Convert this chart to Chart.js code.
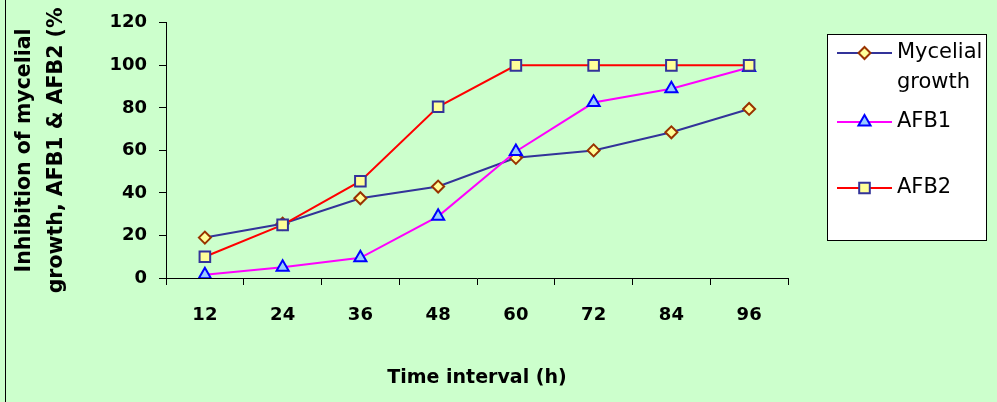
<!DOCTYPE html>
<html>
<head>
<meta charset="utf-8">
<script src="https://cdn.jsdelivr.net/npm/chart.js@4.4.1/dist/chart.umd.min.js"></script>
<style>
html, body { margin: 0; padding: 0; background: #ccffcc; }
#wrap { position: relative; width: 997px; height: 402px; }
</style>
</head>
<body>
<div id="wrap"><canvas id="chart" width="997" height="402"></canvas></div>
<script>
// data
const hours = ['12', '24', '36', '48', '60', '72', '84', '96'];
const mycelialGrowth = [19, 25.5, 37.5, 43, 56.5, 60, 68.5, 79.5];
const afb1 = [1.5, 5, 9.5, 29, 59.5, 82.5, 89, 99];
const afb2 = [10, 25, 45.5, 80.5, 100, 100, 100, 100];
const seriesNames = ['Mycelial growth', 'AFB1', 'AFB2'];
const yTicks = [0, 20, 40, 60, 80, 100, 120];
const xTitle = 'Time interval (h)';
const yTitle = ['Inhibition of mycelial', 'growth, AFB1 & AFB2 (%'];

const FONT = '"DejaVu Sans", Arial, sans-serif';

// green page + left frame line
const backdrop = {
    id: 'backdrop',
    beforeDraw(chart) {
        const ctx = chart.ctx;
        ctx.save();
        ctx.fillStyle = '#ccffcc';
        ctx.fillRect(0, 0, chart.width, chart.height);
        ctx.strokeStyle = '#000';
        ctx.lineWidth = 1;
        ctx.beginPath();
        ctx.moveTo(5.5, 0);
        ctx.lineTo(5.5, chart.height);
        ctx.stroke();
        ctx.restore();
    }
};

// excel-like legend box on the right
const boxLegend = {
    id: 'boxLegend',
    afterDraw(chart) {
        const ctx = chart.ctx;
        const box = { x: 827.5, y: 34.5, w: 159, h: 206 };
        const rows = [53, 122, 188];
        ctx.save();
        ctx.fillStyle = '#fff';
        ctx.fillRect(box.x, box.y, box.w, box.h);
        ctx.strokeStyle = '#000';
        ctx.lineWidth = 1;
        ctx.strokeRect(box.x, box.y, box.w, box.h);

        ctx.font = '21px ' + FONT;
        ctx.textBaseline = 'middle';
        ctx.textAlign = 'left';
        chart.data.datasets.forEach((ds, i) => {
            const y = rows[i];
            ctx.strokeStyle = ds.borderColor;
            ctx.lineWidth = 2;
            ctx.beginPath();
            ctx.moveTo(837, y);
            ctx.lineTo(892, y);
            ctx.stroke();

            ctx.fillStyle = ds.pointBackgroundColor;
            ctx.strokeStyle = ds.pointBorderColor;
            Chart.helpers.drawPoint(ctx, {
                pointStyle: ds.pointStyle,
                radius: ds.pointRadius,
                borderWidth: ds.pointBorderWidth,
                rotation: 0
            }, 864.5, y);

            // wrap label words into the box
            const words = ds.label.split(' ');
            const lines = [];
            let cur = '';
            words.forEach(w => {
                const test = cur ? cur + ' ' + w : w;
                if (cur && ctx.measureText(test).width > 86) {
                    lines.push(cur);
                    cur = w;
                } else {
                    cur = test;
                }
            });
            lines.push(cur);
            ctx.fillStyle = '#000';
            lines.forEach((ln, k) => ctx.fillText(ln, 897, y + k * 30));
        });
        ctx.restore();
    }
};

new Chart(document.getElementById('chart'), {
    type: 'line',
    data: {
        labels: hours,
        datasets: [
            {
                label: seriesNames[0],
                data: mycelialGrowth,
                borderColor: '#333399',
                borderWidth: 2,
                pointStyle: 'rectRot',
                pointRadius: 6,
                pointBorderWidth: 2,
                pointBackgroundColor: '#ffff99',
                pointBorderColor: '#993300',
                tension: 0,
                order: 3
            },
            {
                label: seriesNames[1],
                data: afb1,
                borderColor: '#ff00ff',
                borderWidth: 2,
                pointStyle: 'triangle',
                pointRadius: 7,
                pointBorderWidth: 2,
                pointBackgroundColor: '#99ccff',
                pointBorderColor: '#0000ff',
                tension: 0,
                order: 2
            },
            {
                label: seriesNames[2],
                data: afb2,
                borderColor: '#ff0000',
                borderWidth: 2,
                pointStyle: 'rect',
                pointRadius: 7.5,
                pointBorderWidth: 2,
                pointBackgroundColor: '#ffff99',
                pointBorderColor: '#333399',
                tension: 0,
                order: 1
            }
        ]
    },
    options: {
        responsive: false,
        animation: false,
        devicePixelRatio: 1,
        layout: { padding: { top: 20, right: 209, left: 0, bottom: 0 } },
        plugins: {
            legend: { display: false },
            tooltip: { enabled: false }
        },
        scales: {
            x: {
                offset: true,
                grid: { offset: true, drawOnChartArea: false, tickLength: 7, color: '#000' },
                border: { color: '#000', width: 1 },
                ticks: { color: '#000', padding: 20, font: { family: FONT, size: 18, weight: 'bold' } },
                title: {
                    display: true,
                    text: xTitle,
                    color: '#000',
                    font: { family: FONT, size: 19, weight: 'bold' },
                    padding: { top: 0, bottom: 13 }
                },
                afterFit(scale) { scale.height = 124; }
            },
            y: {
                min: yTicks[0],
                max: yTicks[yTicks.length - 1],
                grid: { drawOnChartArea: false, tickLength: 7, color: '#000' },
                border: { color: '#000', width: 1 },
                ticks: { stepSize: yTicks[1] - yTicks[0], color: '#000', padding: 12, font: { family: FONT, size: 18, weight: 'bold' } },
                title: {
                    display: true,
                    text: yTitle,
                    color: '#000',
                    font: { family: FONT, size: 20.5, weight: 'bold', lineHeight: 1.56 },
                    padding: { top: 9, bottom: 0 }
                },
                afterFit(scale) { scale.width = 166; }
            }
        }
    },
    plugins: [backdrop, boxLegend]
});
</script>
</body>
</html>
